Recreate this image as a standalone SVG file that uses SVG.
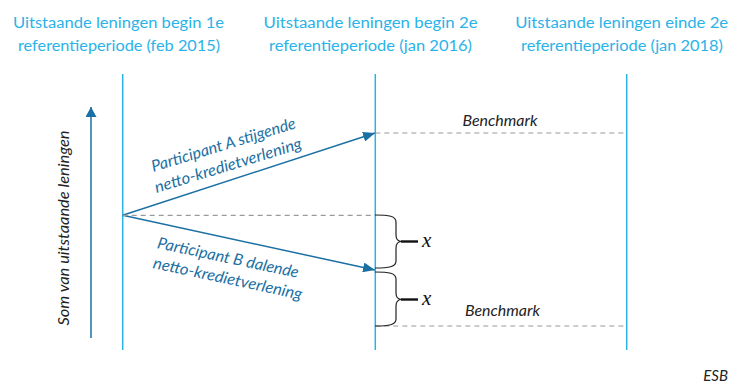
<svg xmlns="http://www.w3.org/2000/svg" width="730" height="385" viewBox="0 0 730 385">
<defs>
<style>
.hdr{font-family:Lato,"Open Sans","DejaVu Sans",sans-serif;font-size:15.5px;fill:#2ab3e8;text-anchor:middle}
.lbl{font-family:Lato,"Open Sans","DejaVu Sans",sans-serif;font-size:16px;font-style:italic;fill:#1b70a3;text-anchor:middle}
.dk{font-family:Lato,"Open Sans","DejaVu Sans",sans-serif;font-size:15px;font-style:italic;fill:#222;text-anchor:middle}
.mx{font-family:"Liberation Serif","DejaVu Serif",serif;font-size:21px;font-style:italic;fill:#111}
.vl{stroke:#2ab3e8;stroke-width:1.5;fill:none}
.arr{stroke:#1b70a3;stroke-width:1.5;fill:none}
.dash{stroke:#9a9a9a;stroke-width:1.2;stroke-dasharray:5 4;fill:none}
.brace{stroke:#222;stroke-width:1.2;fill:none}
.tick{stroke:#111;stroke-width:2.4}
</style>
<marker id="ah" viewBox="0 0 12 10" refX="12" refY="5" markerWidth="12" markerHeight="10" orient="auto" markerUnits="userSpaceOnUse">
<path d="M0,0 L12,5 L0,10 z" fill="#1b70a3"/>
</marker>
<marker id="ah2" viewBox="0 0 10 11" refX="10" refY="5.5" markerWidth="10" markerHeight="11" orient="auto" markerUnits="userSpaceOnUse">
<path d="M0,0 L10,5.5 L0,11 z" fill="#1b70a3"/>
</marker>
</defs>
<rect width="730" height="385" fill="#fff"/>

<g id="header1">
<text class="hdr" x="118.5" y="28" textLength="211" lengthAdjust="spacingAndGlyphs">Uitstaande leningen begin 1e</text>
<text class="hdr" x="119" y="51" textLength="202" lengthAdjust="spacingAndGlyphs">referentieperiode (feb 2015)</text>
</g>
<g id="header2">
<text class="hdr" x="370.5" y="28" textLength="214" lengthAdjust="spacingAndGlyphs">Uitstaande leningen begin 2e</text>
<text class="hdr" x="370.5" y="51" textLength="203" lengthAdjust="spacingAndGlyphs">referentieperiode (jan 2016)</text>
</g>
<g id="header3">
<text class="hdr" x="621.7" y="28" textLength="213" lengthAdjust="spacingAndGlyphs">Uitstaande leningen einde 2e</text>
<text class="hdr" x="622" y="51" textLength="202" lengthAdjust="spacingAndGlyphs">referentieperiode (jan 2018)</text>
</g>

<g id="timelines">
<line class="vl" x1="122.7" y1="74" x2="122.7" y2="350"/>
<line class="vl" x1="375.3" y1="74" x2="375.3" y2="350"/>
<line class="vl" x1="626.7" y1="74" x2="626.7" y2="350"/>
</g>

<g id="connectors">
<line class="arr" x1="91" y1="338" x2="91" y2="107" marker-end="url(#ah2)"/>
<line class="arr" x1="122.7" y1="215.3" x2="375" y2="133" marker-end="url(#ah)"/>
<line class="arr" x1="122.7" y1="215.3" x2="375" y2="270" marker-end="url(#ah)"/>
<line class="dash" x1="122.7" y1="215.3" x2="375" y2="215.3"/>
<line class="dash" x1="375.3" y1="133" x2="626.7" y2="133"/>
<line class="dash" x1="375.3" y1="326" x2="626.7" y2="326"/>
</g>

<g id="axis-label">
<text class="dk" transform="translate(69,228) rotate(-90)" textLength="195" lengthAdjust="spacingAndGlyphs" style="font-size:16px">Som van uitstaande leningen</text>
</g>

<g id="label-a" transform="translate(225,150) rotate(-17)">
<text class="lbl" x="0" y="0" textLength="150" lengthAdjust="spacingAndGlyphs">Participant A stijgende</text>
<text class="lbl" x="-1.5" y="21" textLength="153" lengthAdjust="spacingAndGlyphs">netto-kredietverlening</text>
</g>

<g id="label-b" transform="translate(227,263) rotate(12)">
<text class="lbl" x="0" y="0" textLength="144" lengthAdjust="spacingAndGlyphs">Participant B dalende</text>
<text class="lbl" x="4" y="20.5" textLength="152" lengthAdjust="spacingAndGlyphs">netto-kredietverlening</text>
</g>

<g id="benchmark-top">
<text class="dk" x="500" y="126" textLength="75" lengthAdjust="spacingAndGlyphs">Benchmark</text>
</g>
<g id="benchmark-bottom">
<text class="dk" x="502.5" y="316" textLength="75" lengthAdjust="spacingAndGlyphs">Benchmark</text>
</g>

<g id="brace1">
<path class="brace" d="M375,215 C389,215 396,216 396,222 L396,235 C396,240 398,241.5 402,241.5 C398,241.5 396,243 396,248 L396,261 C396,267 389,268 375,268"/>
<line class="tick" x1="401" y1="241.5" x2="418" y2="241.5"/>
<text class="mx" x="422" y="247">x</text>
</g>
<g id="brace2">
<path class="brace" d="M375,272 C389,272 396,273 396,279 L396,293 C396,298 398,299.5 402,299.5 C398,299.5 396,301 396,306 L396,319 C396,325 389,326 375,326"/>
<line class="tick" x1="401" y1="299.5" x2="418" y2="299.5"/>
<text class="mx" x="422" y="305">x</text>
</g>

<g id="source">
<text class="dk" x="728" y="381" style="text-anchor:end;font-size:15px">ESB</text>
</g>
</svg>
